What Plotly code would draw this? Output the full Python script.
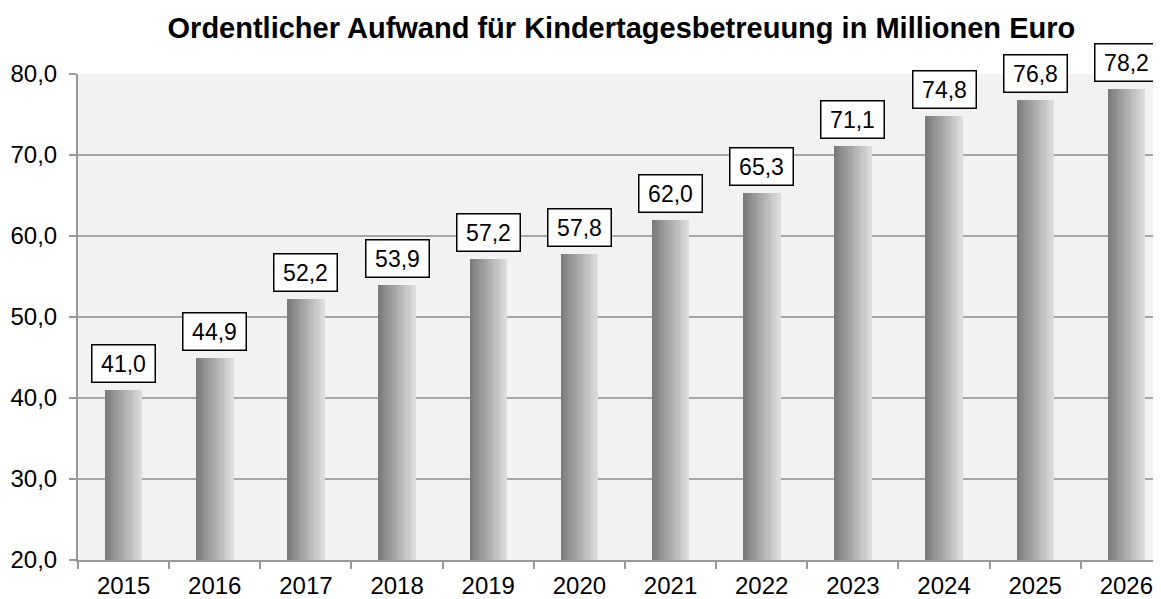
import plotly.graph_objects as go

years = ["2015", "2016", "2017", "2018", "2019", "2020", "2021", "2022", "2023", "2024", "2025", "2026"]
values = [41.0, 44.9, 52.2, 53.9, 57.2, 57.8, 62.0, 65.3, 71.1, 74.8, 76.8, 78.2]
labels = [f"{v:.1f}".replace(".", ",") for v in values]
title = "Ordentlicher Aufwand für Kindertagesbetreuung in Millionen Euro"

FONT = "Liberation Sans, Arial, sans-serif"
BAR_W = 0.41
N_STRIPS = 16
dark, light = (0x7c, 0x7c, 0x7c), (0xdc, 0xdc, 0xdc)

fig = go.Figure()
base = 20.0
for i in range(N_STRIPS):
    t = i / (N_STRIPS - 1)
    c = tuple(round(dark[k] + (light[k] - dark[k]) * t) for k in range(3))
    sw = BAR_W / N_STRIPS
    fig.add_trace(go.Bar(
        x=years, y=[v - base for v in values], base=base,
        width=sw * 1.08, offset=-BAR_W / 2 + i * sw,
        marker=dict(color=f"rgb{c}", line=dict(width=0)),
        hoverinfo="skip", showlegend=False,
    ))

for idx, (v, lab) in enumerate(zip(values, labels)):
    fig.add_annotation(
        x=idx, y=v, xref="x", yref="y", text=lab, showarrow=False,
        yanchor="bottom", yshift=7, width=56, height=30,
        font=dict(family=FONT, size=23, color="black"),
        bgcolor="white", bordercolor="black", borderwidth=1.5, borderpad=3,
    )

fig.update_layout(
    width=1153, height=591,
    margin=dict(l=70, r=0, t=66, b=39),
    paper_bgcolor="white", plot_bgcolor="#f2f2f2",
    barmode="overlay", bargap=0,
    title=dict(text=f"<b>{title}</b>", x=0.532, xanchor="center", xref="container",
               y=0.966, yanchor="middle",
               font=dict(family=FONT, size=29, color="black")),
    font=dict(family=FONT, size=23, color="black"),
    xaxis=dict(type="category", range=[-0.5, 11.38], showgrid=False, showline=True,
               linecolor="#999999", linewidth=2,
               ticks="outside", tickson="boundaries", ticklen=7, tickcolor="#999999", tickwidth=2,
               ticklabelstandoff=3, tickfont=dict(size=24)),
    yaxis=dict(range=[20, 80], dtick=10, tickformat=".1f",
               showgrid=True, gridcolor="#a6a6a6", gridwidth=2,
               showline=True, linecolor="#999999", linewidth=2, zeroline=False,
               ticks="outside", ticklen=7, tickcolor="#999999", tickwidth=2,
               ticklabelstandoff=7, tickfont=dict(size=24)),
    separators=",.",
)
fig.write_html("out.html")
